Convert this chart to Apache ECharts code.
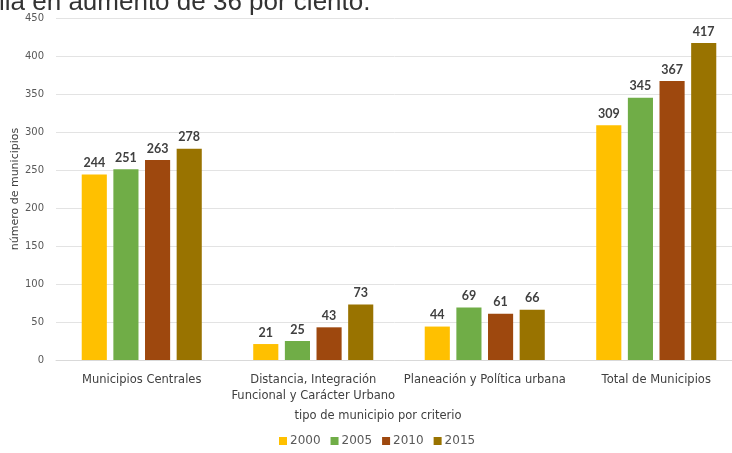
<!DOCTYPE html>
<html><head><meta charset="utf-8">
<script src="https://cdn.jsdelivr.net/npm/echarts@6/dist/echarts.min.js"></script>
<style>html,body{margin:0;padding:0;background:#fff}#c{width:732px;height:453px}</style>
</head><body><div id="c"></div>
<script>
const categories = ['Municipios Centrales', 'Distancia, Integración\nFuncional y Carácter Urbano', 'Planeación y Política urbana', 'Total de Municipios'];
const seriesNames = ['2000', '2005', '2010', '2015'];
const v2000 = [244, 21, 44, 309];
const v2005 = [251, 25, 69, 345];
const v2010 = [263, 43, 61, 367];
const v2015 = [278, 73, 66, 417];
const yTicks = [0, 50, 100, 150, 200, 250, 300, 350, 400, 450];
const colors = ['#FFC000', '#70AD47', '#9E480E', '#997300'];
const values = [v2000, v2005, v2010, v2015];
const font = '"DejaVu Sans", sans-serif';
const chart = echarts.init(document.getElementById('c'));
chart.setOption({
  animation: false,
  textStyle: {fontFamily: font},
  graphic: [
    {type: 'text', x: 0, y: 0, silent: true, style: {text: 'lia en aumento de 36 por ciento.', x: -1, y: -10, font: '26px "Liberation Sans", Arial, sans-serif', fill: '#333'}},
    {type: 'text', x: 15, y: 189, rotation: Math.PI / 2, silent: true, style: {text: 'número de municipios', align: 'center', verticalAlign: 'middle', font: '11px "DejaVu Sans", sans-serif', fill: '#404040'}}
  ],
  grid: {left: 56, width: 686, top: 18, bottom: 93, outerBoundsMode: 'none', containLabel: false},
  legend: {bottom: 1, left: 274, itemWidth: 8, itemHeight: 8, itemGap: 10, icon: 'rect',
    textStyle: {color: '#595959', fontSize: 12, fontFamily: font, padding: [0, 0, 0, -2]}, data: seriesNames},
  xAxis: {type: 'category', data: categories,
    axisLine: {lineStyle: {color: '#d9d9d9'}}, axisTick: {show: false},
    axisLabel: {color: '#404040', fontSize: 11.5, interval: 0, margin: 12, lineHeight: 16},
    name: 'tipo de municipio por criterio', nameLocation: 'middle', nameGap: 50,
    nameTextStyle: {color: '#404040', fontSize: 11.5, padding: [0, 42, 0, 0]}},
  yAxis: {type: 'value', min: yTicks[0], max: yTicks[yTicks.length-1], interval: 50,
    axisLine: {show: false}, axisTick: {show: false},
    axisLabel: {color: '#595959', fontSize: 10, margin: 12},
    splitLine: {lineStyle: {color: '#e3e3e3'}}},
  series: seriesNames.map((n, i) => ({
    name: n, type: 'bar', data: values[i], barGap: '26%', barCategoryGap: '30%',
    itemStyle: {color: colors[i]},
    label: {show: true, position: 'top', color: '#404040', fontSize: 12.5, fontWeight: 'bold', fontFamily: 'Lato, sans-serif', distance: 5}
  }))
});
</script></body></html>
